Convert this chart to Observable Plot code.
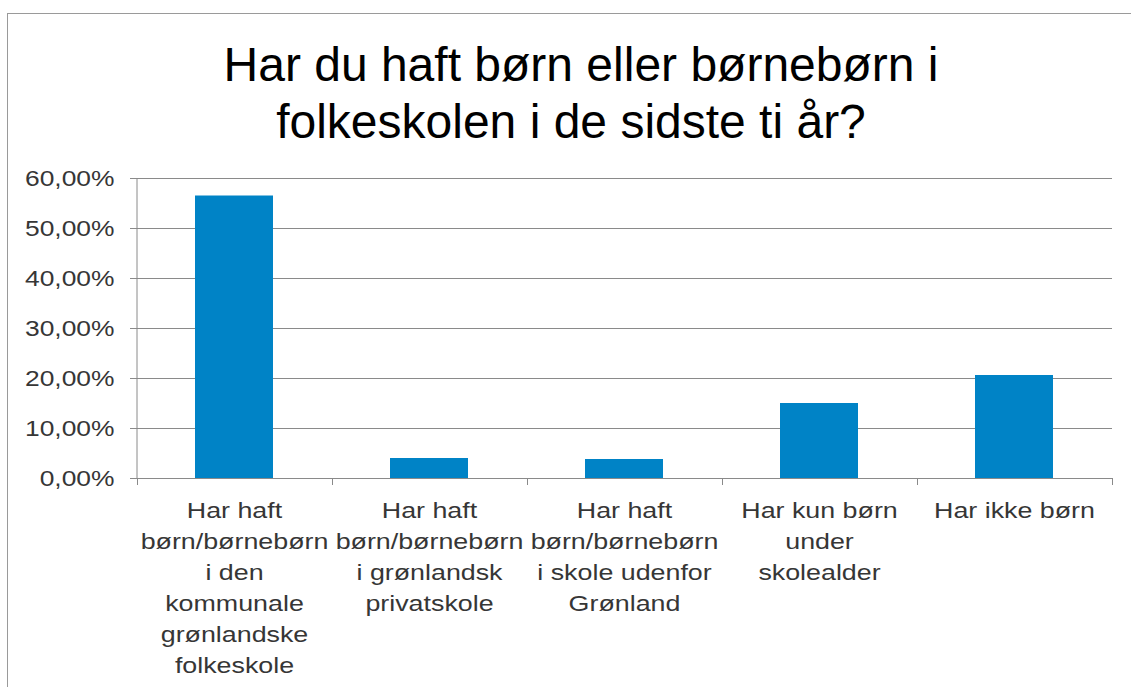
<!DOCTYPE html>
<html>
<head>
<meta charset="utf-8">
<script src="https://cdn.jsdelivr.net/npm/d3@7"></script>
<script src="https://cdn.jsdelivr.net/npm/@observablehq/plot@0.6"></script>
<style>
  html, body { margin: 0; padding: 0; background: #fff; }
  body { width: 1131px; height: 687px; overflow: hidden; position: relative; font-family: "Liberation Sans", Arial, sans-serif; }
  #frame { position: absolute; left: 7px; top: 13px; width: 2000px; height: 2000px; border-left: 1.5px solid #9a9a9a; border-top: 1.5px solid #9a9a9a; }
  #title { position: relative; height: 114px; padding-top: 36px; font-size: 48px; line-height: 57px; color: #000; width: 1152px; text-align: center; }
  #title div { position: relative; white-space: nowrap; }
  #chart svg { display: block; }
</style>
</head>
<body>
<div id="frame"></div>
<div id="title"><div style="left:5px">Har du haft børn eller børnebørn i</div><div style="left:-5px">folkeskolen i de sidste ti år?</div></div>
<div id="chart"></div>
<script>
const categories = [
  "Har haft børn/børnebørn i den kommunale grønlandske folkeskole",
  "Har haft børn/børnebørn i grønlandsk privatskole",
  "Har haft børn/børnebørn i skole udenfor Grønland",
  "Har kun børn under skolealder",
  "Har ikke børn"
];
const tickLabels = [
  "Har haft\nbørn/børnebørn\ni den\nkommunale\ngrønlandske\nfolkeskole",
  "Har haft\nbørn/børnebørn\ni grønlandsk\nprivatskole",
  "Har haft\nbørn/børnebørn\ni skole udenfor\nGrønland",
  "Har kun børn\nunder\nskolealder",
  "Har ikke børn"
];
const values = [56.5, 4.0, 3.8, 15.0, 20.6];
const yTicks = [0, 10, 20, 30, 40, 50, 60];

const data = categories.map((c, i) => ({category: c, value: values[i]}));
const labelOf = new Map(categories.map((c, i) => [c, tickLabels[i]]));

const gridColor = "#8a8a8a";
const textColor = "#363636";

const plot = Plot.plot({
  width: 1131,
  height: 537,
  marginTop: 28,
  marginBottom: 209,
  marginLeft: 137,
  marginRight: 19,
  style: {fontFamily: "'Liberation Sans', Arial, sans-serif", background: "transparent"},
  x: {domain: categories, paddingInner: 0.6, paddingOuter: 0.3, label: null},
  y: {domain: [0, 60], label: null},
  marks: [
    Plot.gridY(yTicks, {stroke: gridColor, strokeOpacity: 1, strokeWidth: 1}),
    Plot.barY(data, {x: "category", y: "value", fill: "#0083C6"}),
    Plot.ruleY([0], {stroke: gridColor, strokeWidth: 1}),
    Plot.axisY(yTicks, {
      tickSize: 7, tickPadding: 16, stroke: gridColor, fill: textColor, fontSize: 22,
      tickFormat: d => d.toFixed(2).replace(".", ",") + "%", label: null
    }),
    Plot.axisX({
      tickSize: 0, tickPadding: 17, fill: textColor, fontSize: 22, lineHeight: 1.41,
      tickFormat: d => labelOf.get(d), label: null
    })
  ]
});

document.getElementById("chart").appendChild(plot);

// Excel-like axis furniture derived from the Plot scales
const xs = plot.scale("x");
const ys = plot.scale("y");
const bw = xs.bandwidth ?? 0;
const step = xs.step ?? bw;
const half = (step - bw) / 2;
const bounds = categories.map(c => xs.apply(c) - half);
bounds.push(xs.apply(categories[categories.length - 1]) + bw + half);
const y0 = ys.apply(0), yTop = ys.apply(60);
const svg = d3.select(plot);
const furn = svg.append("g").attr("stroke", gridColor).attr("stroke-width", 1);
furn.selectAll("line.xt").data(bounds).join("line")
  .attr("x1", d => Math.round(d) + 0.5).attr("x2", d => Math.round(d) + 0.5)
  .attr("y1", y0).attr("y2", y0 + 7);
furn.append("line")
  .attr("x1", bounds[0] + 0.5).attr("x2", bounds[0] + 0.5)
  .attr("y1", yTop).attr("y2", y0);

// horizontal stretch of axis texts to match the reference's wide lettering
function stretch(sel, k) {
  sel.each(function() {
    const t = this.getAttribute("transform") || "";
    const x = this.getAttribute("x");
    let pre = t;
    if (x !== null && !t) { pre = `translate(${x},0)`; this.removeAttribute("x"); }
    this.setAttribute("transform", `${pre} scale(${k},1)`);
  });
}
stretch(svg.selectAll('g[aria-label="y-axis tick label"] text'), 1.2);
stretch(svg.selectAll('g[aria-label="x-axis tick label"] text'), 1.22);
</script>
</body>
</html>
